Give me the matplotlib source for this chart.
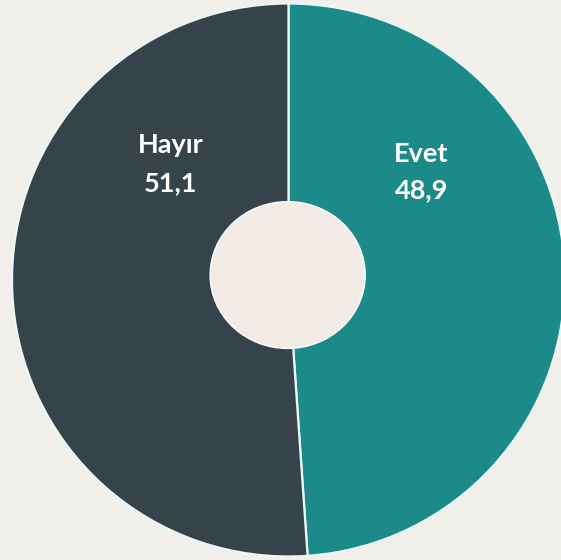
import matplotlib
matplotlib.use("Agg")
import matplotlib.pyplot as plt
from matplotlib.patches import Circle, Ellipse

categories = ["Evet", "Hayır"]
values = [48.9, 51.1]
value_labels = ["48,9", "51,1"]
colors = ["#1c8a89", "#36434a"]

W, H = 561, 560
fig = plt.figure(figsize=(W / 100, H / 100), dpi=100)
bg = "#f1efea"
fig.patch.set_facecolor(bg)
ax = fig.add_axes([0, 0, 1, 1])
ax.set_facecolor(bg)

cx, cy, R = 288.5, 280.0, 276.5  # pixel center (from top) and radius

wedges, _ = ax.pie(values, colors=colors, startangle=90, counterclock=False,
                   radius=1.0, wedgeprops=dict(edgecolor="#eaf8f8", linewidth=1.6))
ax.set_xlim(-cx / R, (W - cx) / R)
ax.set_ylim(-(H - cy) / R, cy / R)
ax.set_aspect("auto")
ax.axis("off")

hole = Ellipse((-0.003, 0.018), 2 * 0.28, 2 * 0.265, facecolor="#f1eae5",
               edgecolor="#f8fbfb", linewidth=1.2, zorder=5)
ax.add_patch(hole)

# label anchor positions (pixel, baseline of first and second line)
label_pos = {"Evet": (421.5, 162, 198), "Hayır": (171, 153, 191)}

def px(x, y):
    return (x - cx) / R, (cy - y) / R

for cat, val in zip(categories, value_labels):
    x, y1, y2 = label_pos[cat]
    for txt, yy in ((cat, y1), (val, y2)):
        X, Y = px(x, yy)
        ax.text(X, Y, txt, ha="center", va="baseline", color="white",
                fontsize=19.5, fontweight="bold", family=["Lato", "DejaVu Sans"],
                zorder=6)

fig.savefig("out.png", dpi=100, facecolor=bg)
